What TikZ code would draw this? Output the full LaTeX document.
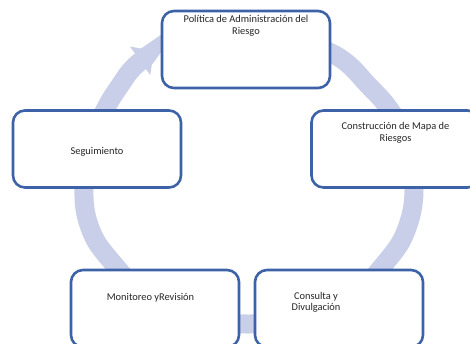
\documentclass[tikz,border=0pt]{standalone}
\usepackage{fontspec}
\setmainfont{Carlito}
\usetikzlibrary{arrows.meta}
\usetikzlibrary{positioning}
\definecolor{ringblue}{RGB}{201,207,232}
\definecolor{boxblue}{RGB}{62,98,168}

\begin{document}
\begin{tikzpicture}[x=1pt, y=1pt,
        stepbox/.style={draw=boxblue, line width=2.6pt, fill=white, rounded corners=12pt,
                        minimum width=168pt, minimum height=77pt, inner sep=0pt},
        txt/.style={font=\fontsize{10.4}{11.5}\selectfont, text=black!85, align=center, inner sep=0pt}]
        \useasboundingbox (0,0) rectangle (470,343);

        % ciclo
        \draw[ringblue, line width=19pt, -{Triangle[width=34pt, length=17pt]}]
            plot[smooth, tension=0.7] coordinates {(300,303) (340,285) (368,258) (390,233) (406,203)
                (414,158) (407,115) (386,81) (350,46) (300,25) (248,19) (196,25) (148,46) (112,81)
                (90,115) (84,157) (92,203) (106,235) (121,259) (134,276) (154,292)};

        \node[stepbox] (pol) at (246,293.5) {};
        \node[stepbox] (con) at (395.5,194) {};
        \node[stepbox] (seg) at (97,194) {};
        \node[stepbox] (mon) at (155,34.5) {};
        \node[stepbox] (cons) at (339,34.5) {};

        % base = ultima linea
        \node[txt, below=24.8pt of pol.north, anchor=base] (polt) {Política de Administración del\\Riesgo};
        \node[txt, below=32.3pt of con.north, anchor=base] (cont) {Construcción de Mapa de\\Riesgos};
        \node[txt, below=45.5pt of seg.north, anchor=base] (segt) {Seguimiento};
        \node[txt, below=31.3pt of mon.north, xshift=-4.5pt, anchor=base] (mont) {Monitoreo yRevisión};
        \node[txt, below=41.8pt of cons.north, xshift=-23pt, anchor=base] (const) {Consulta y\\Divulgación};
\end{tikzpicture}
\end{document}
